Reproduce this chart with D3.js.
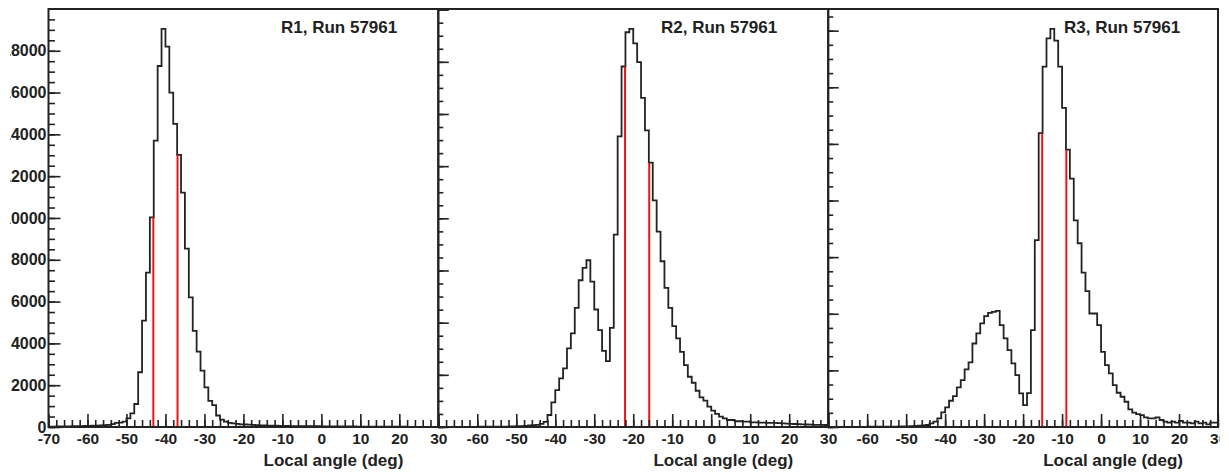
<!DOCTYPE html>
<html>
<head>
<meta charset="utf-8">
<script src="https://cdn.jsdelivr.net/npm/d3@7"></script>
<style>
    body { margin: 0; background: #fff; }
    svg { display: block; font-family: "Liberation Sans", Arial, sans-serif; font-weight: bold; }
</style>
</head>
<body>
<svg id="chart" width="1229" height="472"></svg>
<script>
// bins: 1 deg wide, low edges from -70 to 29
const angleBins = d3.range(-70, 30);
const binWidth = 1;
const xTicks = d3.range(-70, 31, 10);
const xMinorTicks = d3.range(-70, 31, 2);
const yStep = 2000;
const yMinorStep = 500;

const runTitles = ["R1, Run 57961", "R2, Run 57961", "R3, Run 57961"];
const axisTitle = "Local angle (deg)";

const r1Counts = [
    20, 20, 25, 25, 30, 30, 35, 40, 40, 50,
    50, 60, 70, 80, 90, 100, 140, 200, 210, 255,
    415, 650, 1100, 2620, 5090, 7390, 10030, 13700, 17270, 19045,
    18200, 16000, 14500, 13015, 11210, 8530, 6205, 4594, 3605, 2695,
    1900, 1250, 1050, 550, 350, 255, 200, 170, 150, 130,
    120, 110, 100, 90, 80, 75, 70, 65, 60, 55,
    50, 50, 45, 45, 40, 40, 40, 35, 35, 35,
    30, 30, 30, 30, 25, 25, 25, 25, 25, 20,
    20, 20, 20, 20, 20, 15, 15, 15, 15, 15,
    15, 15, 10, 10, 10, 10, 10, 10, 10, 10
];
const r2Counts = [
    5, 5, 5, 5, 5, 5, 5, 5, 5, 5,
    10, 10, 10, 10, 10, 15, 15, 15, 20, 20,
    30, 35, 45, 60, 75, 80, 120, 200, 460, 945,
    1416, 1863, 2246, 3011, 3586, 4568, 5627, 6100, 6393, 5577,
    4504, 3713, 2921, 2526, 3802, 7376, 11140, 13820, 15133, 15262,
    14710, 13985, 12620, 11370, 10133, 8690, 7490, 6355, 5333, 4567,
    3866, 3395, 2883, 2373, 1926, 1697, 1390, 1136, 1008, 778,
    625, 500, 395, 332, 268, 268, 221, 221, 204, 204,
    178, 175, 170, 165, 160, 160, 155, 150, 140, 130,
    120, 115, 110, 100, 95, 90, 85, 80, 78, 76
];
const r3Counts = [
    5, 5, 5, 5, 5, 5, 5, 5, 5, 5,
    10, 10, 10, 10, 10, 15, 15, 15, 20, 20,
    25, 30, 35, 45, 55, 70, 130, 188, 306, 518,
    694, 928, 1093, 1400, 1658, 2035, 2280, 2950, 3305, 3657,
    3915, 4033, 4067, 4100, 3598, 3128, 2716, 2245, 1834, 1188,
    776, 1200, 3421, 6600, 10380, 12732, 13730, 14062, 13650, 12732,
    11276, 9795, 8771, 7301, 6490, 5450, 4800, 4010, 4010, 3598,
    2656, 2187, 1894, 1481, 1210, 1069, 892, 623, 505, 458,
    423, 341, 306, 306, 341, 247, 188, 153, 188, 153,
    212, 153, 153, 130, 188, 130, 153, 94, 153, 153
];

// cut window edges, drawn as red lines
const r1Cuts = [-43.1, -36.9];
const r2Cuts = [-22.1, -15.9];
const r3Cuts = [-15.1, -8.9];

const panels = [
    { title: runTitles[0], counts: r1Counts, cuts: r1Cuts },
    { title: runTitles[1], counts: r2Counts, cuts: r2Cuts },
    { title: runTitles[2], counts: r3Counts, cuts: r3Cuts },
];

// layout (pixels)
const frameLeft = [48.5, 438.3, 828.2];
const frameRight = [438.3, 828.2, 1218];
const frameTop = 9;
const frameBottom = 427;
const titleLeft = [281, 661, 1064];
// pads cut the labels at the canvas edges
const padLeft = 10;
const padRight = 1219.5;

class PanelPainter {
    constructor (svg, index, panel) {
        this._svg = svg;
        this._i = index;
        this._panel = panel;

        this.x = d3.scaleLinear()
            .domain([angleBins[0], angleBins[angleBins.length - 1] + binWidth])
            .range([frameLeft[index], frameRight[index]]);

        this.y = d3.scaleLinear()
            .domain([0, d3.max(panel.counts) * 1.05])
            .range([frameBottom, frameTop]);
    }
    clip (id, x0, y0, w, h) {
        this._svg.select("defs").append("clipPath").attr("id", id)
            .append("rect")
            .attr("x", x0).attr("y", y0)
            .attr("width", w).attr("height", h);
        return "url(#" + id + ")";
    }
    axes (g) {
        let i = this._i;
        let yMax = this.y.domain()[1];
        let first = (0 === i);

        let labels = this.clip("lab" + i, padLeft, 0, padRight - padLeft, 472);

        // the left neighbour already prints the shared "30"/"-70" spot
        let xFormat = (d) => (!first && d === xTicks[0]) ? "" : String(d);

        let gx = g.append("g")
            .attr("clip-path", labels)
            .append("g")
            .attr("transform", `translate(0,${frameBottom})`);

        gx.append("g")
            .call(d3.axisBottom(this.x).tickValues(xMinorTicks).tickSize(-7).tickFormat(""));
        gx.append("g")
            .call(d3.axisBottom(this.x).tickValues(xTicks).tickSize(-13).tickPadding(6).tickFormat(xFormat))
            .attr("font-size", 15.5)
            .attr("font-family", null);

        let gy = g.append("g")
            .attr("clip-path", labels)
            .append("g")
            .attr("transform", `translate(${frameLeft[i]},0)`);

        gy.append("g")
            .call(d3.axisLeft(this.y)
                .tickValues(d3.range(0, yMax, yMinorStep))
                .tickSize(first ? -6.5 : -5)
                .tickFormat(""));
        gy.append("g")
            .call(d3.axisLeft(this.y)
                .tickValues(d3.range(0, yMax, yStep))
                .tickSize(first ? -12 : -10.5)
                .tickPadding(2)
                .tickFormat(first ? (d) => String(d) : () => ""))
            .attr("font-size", 16)
            .attr("font-family", null);

        g.selectAll(".domain").remove();
        g.selectAll(".tick line").attr("stroke", "#222").attr("stroke-width", 1.6);
        g.selectAll(".tick text").attr("fill", "#222");
    }
    draw () {
        let i = this._i;
        let p = this._panel;
        let x = this.x, y = this.y;

        let g = this._svg.append("g").attr("class", "panel");

        let plotClip = this.clip("plot" + i, frameLeft[i], frameTop,
            frameRight[i] - frameLeft[i], frameBottom - frameTop);

        // step outline of the histogram
        let pts = angleBins.map((lo, k) => [lo, p.counts[k]]);
        pts.push([angleBins[angleBins.length - 1] + binWidth, p.counts[p.counts.length - 1]]);

        let line = d3.line()
            .x(d => x(d[0]))
            .y(d => y(d[1]))
            .curve(d3.curveStepAfter);

        let hg = g.append("g").attr("clip-path", plotClip);

        hg.append("path")
            .datum(pts)
            .attr("fill", "none")
            .attr("stroke", "#222")
            .attr("stroke-width", 1.8)
            .attr("d", line);

        hg.selectAll("line.cut")
            .data(p.cuts)
            .join("line")
            .attr("class", "cut")
            .attr("x1", d => x(d)).attr("x2", d => x(d))
            .attr("y1", y(0))
            .attr("y2", d => y(p.counts[Math.floor((d - angleBins[0]) / binWidth)]))
            .attr("stroke", "#ee1111")
            .attr("stroke-width", 2);

        this.axes(g);

        g.append("rect")
            .attr("x", frameLeft[i]).attr("y", frameTop)
            .attr("width", frameRight[i] - frameLeft[i])
            .attr("height", frameBottom - frameTop)
            .attr("fill", "none")
            .attr("stroke", "#222")
            .attr("stroke-width", 2);

        g.append("text")
            .attr("x", titleLeft[i]).attr("y", 33)
            .attr("font-size", 17)
            .attr("fill", "#222")
            .text(p.title);

        g.append("text")
            .attr("x", frameRight[i] - 35).attr("y", 466)
            .attr("text-anchor", "end")
            .attr("font-size", 17)
            .attr("fill", "#222")
            .text(axisTitle);

        return this;
    }
}

let svg = d3.select("#chart");
svg.append("defs");

panels.forEach((panel, i) => {
    new PanelPainter(svg, i, panel).draw();
});
</script>
</body>
</html>
